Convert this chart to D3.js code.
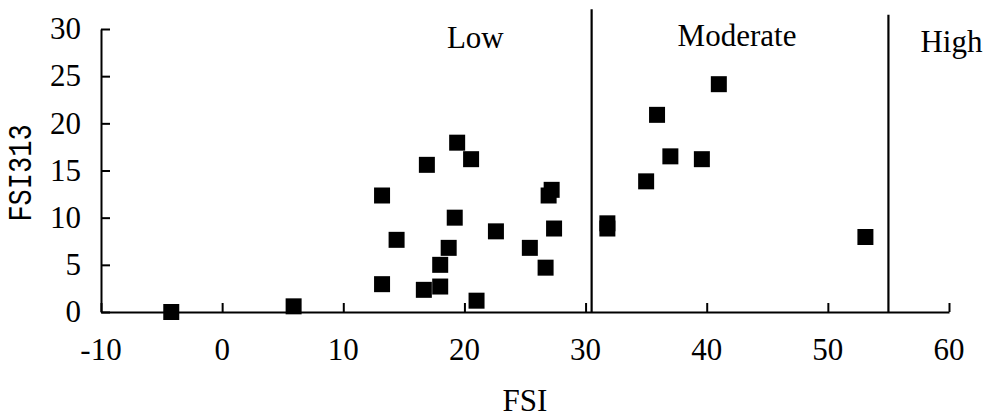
<!DOCTYPE html>
<html>
<head>
<meta charset="utf-8">
<script src="https://cdn.jsdelivr.net/npm/d3@7"></script>
</head>
<body style="margin:0;background:#fff">
<script>
// ---- data ----
const fsi    = [-4.2, 5.9, 13.2, 16.9, 19.4, 20.55, 14.4, 19.2, 18.7, 18.0, 13.2, 16.65, 18.0, 21.0, 22.6, 25.4, 26.7, 27.4, 26.95, 27.2, 31.8, 31.8, 35.0, 35.9, 41.0, 37.0, 39.6, 53.1];
const fsi313 = [0.0, 0.6, 12.35, 15.6, 17.95, 16.2, 7.65, 10.0, 6.8, 5.0, 2.95, 2.35, 2.7, 1.2, 8.55, 6.8, 4.7, 8.85, 12.35, 12.95, 9.4, 8.85, 13.85, 20.9, 24.15, 16.5, 16.2, 7.95];
const xTicks = [-10, 0, 10, 20, 30, 40, 50, 60];
const yTicks = [0, 5, 10, 15, 20, 25, 30];
const thresholds = [30.5, 55];
const thresholdTops = [32.1, 31.5];
const zoneLabels = ["Low", "Moderate", "High"];
const zoneLabelX = [20.9, 42.5, 60.2];
const zoneLabelY = [28.0, 28.2, 27.6];
const xTitle = "FSI";
const yTitle = "FSI313";

// ---- layout ----
const W = 989, H = 418;
const FS = 31;
const SERIF = "Liberation Serif";
const MONO = "Liberation Mono";

const svg = d3.select("body").append("svg").attr("width", W).attr("height", H)
  .style("display", "block").attr("font-family", SERIF);

const x = d3.scaleLinear().domain([-10, 60]).range([101, 949]);
const y = d3.scaleLinear().domain([0, 30]).range([312, 29]);

// x axis
const gx = svg.append("g").attr("transform", `translate(0,${y(0)})`)
  .call(d3.axisBottom(x).tickValues(xTicks).tickSizeInner(-9).tickSizeOuter(0).tickFormat(""));
gx.selectAll("path,line").attr("stroke", "#000").attr("stroke-width", 2);
svg.append("g").selectAll("text").data(xTicks).join("text")
  .attr("x", d => x(d)).attr("y", y(0) + 48).attr("text-anchor", "middle")
  .attr("font-family", SERIF).attr("font-size", FS).attr("fill", "#000")
  .text(d => String(d));

// y axis
const gy = svg.append("g").attr("transform", `translate(${x(-10)},0)`)
  .call(d3.axisLeft(y).tickValues(yTicks).tickSizeInner(-9).tickSizeOuter(0).tickFormat(""));
gy.selectAll("path,line").attr("stroke", "#000").attr("stroke-width", 2);
svg.append("g").selectAll("text").data(yTicks).join("text")
  .attr("x", x(-10) - 20).attr("y", d => y(d)).attr("dy", "0.33em").attr("text-anchor", "end")
  .attr("font-family", SERIF).attr("font-size", FS).attr("fill", "#000")
  .text(d => String(d));

// threshold lines
svg.append("g").selectAll("line").data(thresholds).join("line")
  .attr("x1", d => x(d)).attr("x2", d => x(d))
  .attr("y1", y(0)).attr("y2", (d, i) => y(thresholdTops[i]))
  .attr("stroke", "#000").attr("stroke-width", 2.2);

// zone labels
svg.append("g").selectAll("text").data(zoneLabels).join("text")
  .attr("x", (d, i) => x(zoneLabelX[i])).attr("y", (d, i) => y(zoneLabelY[i]))
  .attr("text-anchor", "middle")
  .attr("font-family", SERIF).attr("font-size", FS).attr("fill", "#000")
  .text(d => d);

// points
const sq = d3.symbol().type(d3.symbolSquare).size(256);
svg.append("g").selectAll("path").data(fsi).join("path")
  .attr("d", sq)
  .attr("transform", (d, i) => `translate(${x(d)},${y(fsi313[i])})`)
  .attr("fill", "#000");

// axis titles
svg.append("text").attr("x", x(25)).attr("y", 411)
  .attr("text-anchor", "middle")
  .attr("font-family", SERIF).attr("font-size", FS).attr("fill", "#000")
  .text(xTitle);

svg.append("text")
  .attr("transform", `translate(31,173) rotate(-90) scale(1,1.2)`)
  .attr("text-anchor", "middle")
  .attr("font-family", MONO).attr("font-size", 27).attr("fill", "#000")
  .text(yTitle);
</script>
</body>
</html>
